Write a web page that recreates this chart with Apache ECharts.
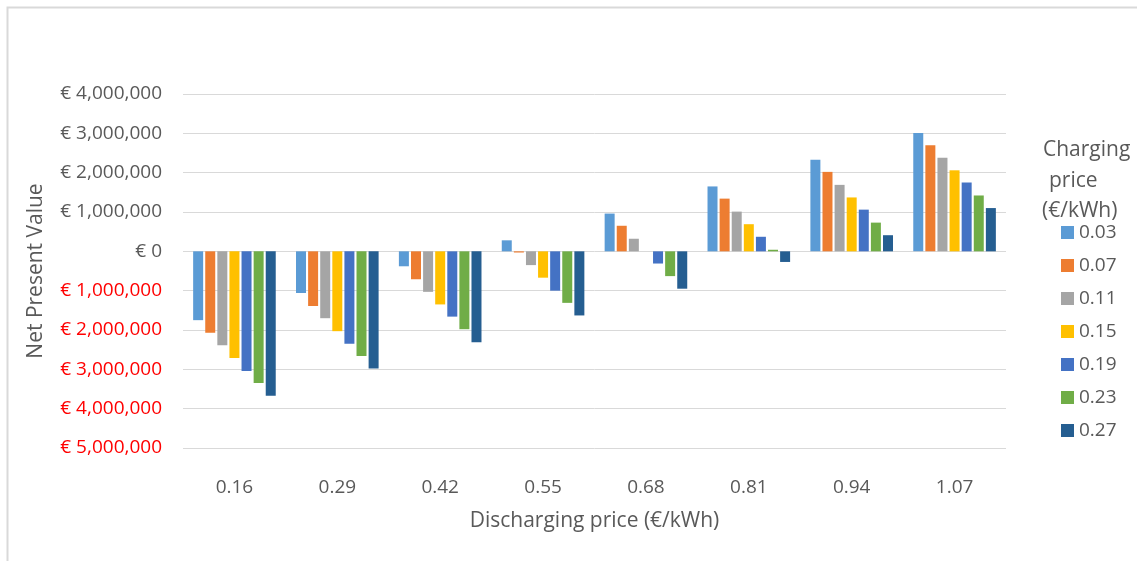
<!DOCTYPE html>
<html>
<head>
<meta charset="utf-8">
<script src="https://cdn.jsdelivr.net/npm/echarts@6/dist/echarts.min.js"></script>
<style>
html,body{margin:0;padding:0;background:#fff;}
#chart{width:1137px;height:561px;}
</style>
</head>
<body>
<div id="chart"></div>
<script>
const categories = ['0.16', '0.29', '0.42', '0.55', '0.68', '0.81', '0.94', '1.07'];
const seriesNames = ['0.03', '0.07', '0.11', '0.15', '0.19', '0.23', '0.27'];
const s003 = [-1750000, -1060000, -380000, 280000, 960000, 1650000, 2330000, 3010000];
const s007 = [-2070000, -1390000, -710000, -30000, 650000, 1340000, 2020000, 2700000];
const s011 = [-2390000, -1700000, -1030000, -350000, 320000, 1010000, 1690000, 2380000];
const s015 = [-2710000, -2030000, -1350000, -670000, 0, 690000, 1370000, 2060000];
const s019 = [-3040000, -2350000, -1660000, -1000000, -310000, 370000, 1060000, 1750000];
const s023 = [-3350000, -2660000, -1980000, -1310000, -630000, 40000, 730000, 1420000];
const s027 = [-3670000, -2980000, -2310000, -1630000, -950000, -270000, 410000, 1100000];
const seriesValues = [s003, s007, s011, s015, s019, s023, s027];
const colors = ['#5B9BD5', '#ED7D31', '#A5A5A5', '#FFC000', '#4472C4', '#70AD47', '#255E91'];

const FONT = "'Open Sans', sans-serif";
const TXT = '#595959';

function fmt(v) {
  const s = '€ ' + Math.abs(v).toLocaleString('en-US');
  return v < 0 ? '{neg|' + s + '}' : s;
}

const chart = echarts.init(document.getElementById('chart'), null, {renderer: 'canvas'});
chart.setOption({
  animation: false,
  backgroundColor: '#fff',
  textStyle: {fontFamily: FONT},
  grid: {left: 183, right: 131, top: 94, bottom: 113, containLabel: false},
  xAxis: {
    type: 'category',
    data: categories,
    position: 'bottom',
    axisLine: {show: false, onZero: false},
    axisTick: {show: false},
    axisLabel: {color: TXT, fontSize: 19, fontFamily: FONT, margin: 30},
    name: 'Discharging price (€/kWh)',
    nameLocation: 'middle',
    nameGap: 63,
    nameTextStyle: {color: TXT, fontSize: 21, fontFamily: FONT}
  },
  yAxis: {
    type: 'value',
    min: -5000000,
    max: 4000000,
    interval: 1000000,
    axisLine: {show: false},
    axisTick: {show: false},
    splitLine: {lineStyle: {color: '#d9d9d9', width: 1}},
    axisLabel: {
      color: TXT, fontSize: 19, fontFamily: FONT, margin: 21,
      formatter: fmt,
      rich: {neg: {color: '#FF0000', fontSize: 19, fontFamily: FONT}}
    },
    name: 'Net Present Value',
    nameLocation: 'middle',
    nameGap: 136,
    nameTextStyle: {color: TXT, fontSize: 21, fontFamily: FONT}
  },
  legend: {
    orient: 'vertical',
    left: 1056,
    top: 218,
    itemWidth: 13,
    itemHeight: 13,
    itemGap: 14,
    icon: 'rect',
    textStyle: {color: TXT, fontSize: 19, fontFamily: FONT},
    data: seriesNames
  },
  graphic: [
    {type: 'rect', left: 5, top: 5, shape: {width: 1200, height: 600}, style: {fill: 'none', stroke: '#d9d9d9', lineWidth: 2}, silent: true},
    {type: 'text', left: 1043, top: 140, style: {text: 'Charging', fill: TXT, font: "21px 'Open Sans'"}},
    {type: 'text', left: 1049, top: 171, style: {text: 'price', fill: TXT, font: "21px 'Open Sans'"}},
    {type: 'text', left: 1042, top: 201, style: {text: '(€/kWh)', fill: TXT, font: "21px 'Open Sans'"}}
  ],
  series: seriesNames.map((n, i) => ({
    name: n,
    type: 'bar',
    data: seriesValues[i],
    barWidth: 10,
    barGap: '21%',
    itemStyle: {color: colors[i]}
  }))
});
</script>
</body>
</html>
